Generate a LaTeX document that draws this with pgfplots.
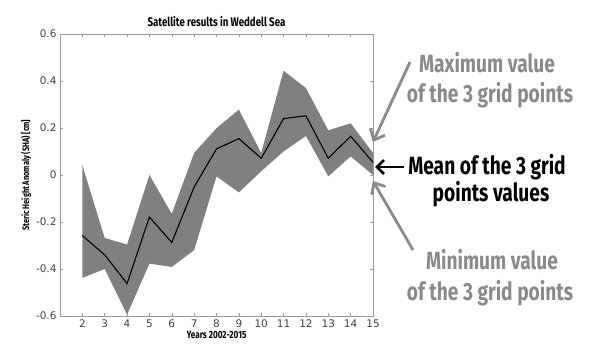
\documentclass[border=0pt]{standalone}
\usepackage{pgfplots}
\pgfplotsset{compat=1.18}
\usepgfplotslibrary{fillbetween}
\usetikzlibrary{arrows.meta}
\usepackage{fontspec}
\setmainfont{DejaVu Sans}
\newfontfamily\cond[FakeStretch=0.78]{Fira Sans}
\newfontfamily\anno[FakeStretch=0.77]{Fira Sans}
\definecolor{bandgray}{HTML}{808080}
\definecolor{axgray}{HTML}{9A9A9A}
\definecolor{tickgray}{HTML}{404040}
\definecolor{annogray}{HTML}{8A8A8A}
\pgfplotstableread{
x mean max min
2 -0.258 0.041 -0.438
3 -0.340 -0.268 -0.400
4 -0.462 -0.296 -0.594
5 -0.179 0.000 -0.377
6 -0.287 -0.165 -0.391
7 -0.051 0.094 -0.320
8 0.111 0.199 -0.006
9 0.155 0.278 -0.074
10 0.071 0.094 0.016
11 0.240 0.444 0.100
12 0.252 0.370 0.166
13 0.071 0.190 -0.006
14 0.165 0.220 0.079
15 0.054 0.094 0.000
}\datatable
\begin{document}
\begin{tikzpicture}
\begin{axis}[
  at={(0,0)}, anchor=south west,
  scale only axis, width=313bp, height=282bp,
  xmin=1, xmax=15, ymin=-0.6, ymax=0.6,
  xtick={2,...,15},
  ytick={-0.6,-0.4,-0.2,0,0.2,0.4,0.6},
  yticklabels={-0.6,-0.4,-0.2,0,0.2,0.4,0.6},
  /pgf/number format/assume math mode=true,
  tick align=inside, tick pos=both,
  major tick length=3bp,
  axis line style={axgray, line width=0.6pt},
  every tick/.style={axgray, line width=0.5pt},
  tick label style={font=\fontsize{10.5}{12}\selectfont, text=tickgray},
  title={\cond\bfseries\fontsize{12.5}{14}\selectfont Satellite results in Weddell Sea},
  title style={yshift=-2bp},
  xlabel={\cond\bfseries\fontsize{10.5}{12}\selectfont Years 2002-2015},
  ylabel={\cond\bfseries\fontsize{9.5}{11}\selectfont Steric Height Anomaly (SHA) [cm]},
  xlabel style={yshift=3bp},
  ylabel style={yshift=-2bp},
  clip=false,
]
\addplot[name path=upper, draw=none, forget plot] table[x=x, y=max] {\datatable};
\addplot[name path=lower, draw=none, forget plot] table[x=x, y=min] {\datatable};
\addplot[fill=bandgray, draw=none] fill between[of=upper and lower];
\addplot[black, line width=1.1pt] table[x=x, y=mean] {\datatable};
\end{axis}
\draw[annogray, line width=2.8pt, -{Straight Barb[length=9bp,width=16bp]}] (350bp,254bp) -- (313bp,174bp);
\draw[annogray, line width=2.8pt, -{Straight Barb[length=9bp,width=16bp]}] (353bp,66bp) -- (313bp,135bp);
\draw[black, line width=2.8pt, -{Straight Barb[length=7bp,width=14bp]}] (344bp,149bp) -- (315bp,149bp);
\tikzset{an/.style={font=\anno\bfseries\fontsize{25}{28}\selectfont}}
\node[annogray, an] at (427bp,253bp) {Maximum value};
\node[annogray, an] at (430bp,221bp) {of the 3 grid points};
\node[black, an] at (427bp,149bp) {Mean of the 3 grid};
\node[black, an] at (431bp,122bp) {points values};
\node[annogray, an] at (432bp,56bp) {Minimum value};
\node[annogray, an] at (430bp,23bp) {of the 3 grid points};
\pgfresetboundingbox
\path (-60bp,-44bp) rectangle (529bp,316bp);
\end{tikzpicture}
\end{document}
